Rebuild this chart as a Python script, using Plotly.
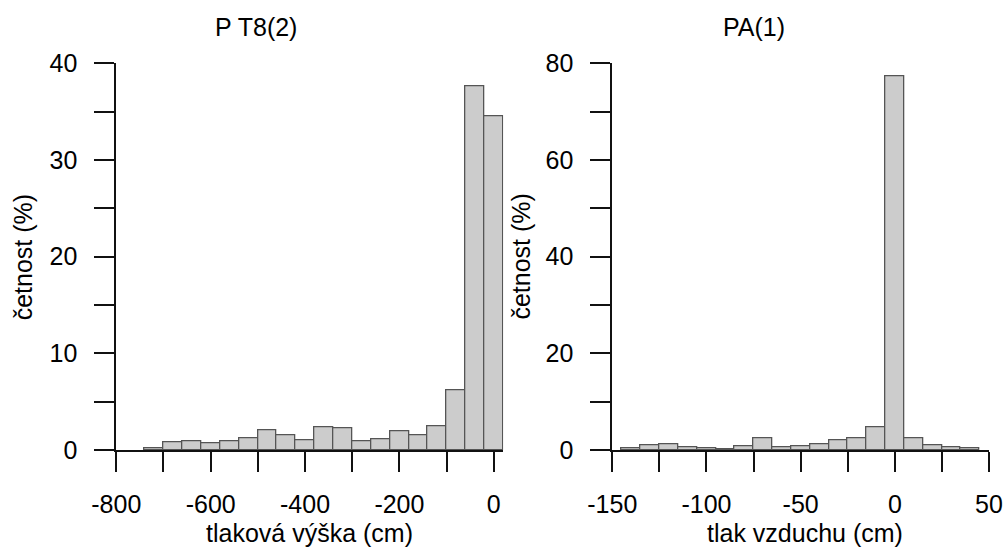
import plotly.graph_objects as go

# ---- data ----
left_bin_start = [-740, -700, -660, -620, -580, -540, -500, -460, -420, -380,
                  -340, -300, -260, -220, -180, -140, -100, -60, -20]
left_bin_width = 40
left_values = [0.2, 0.83, 0.95, 0.68, 0.91, 1.16, 2.08, 1.53, 0.97, 2.4,
               2.22, 0.95, 1.15, 1.92, 1.55, 2.43, 6.18, 37.65, 34.5]

right_bin_start = [-145, -135, -125, -115, -105, -95, -85, -75, -65, -55,
                   -45, -35, -25, -15, -5, 5, 15, 25, 35]
right_bin_width = 10
right_values = [0.31, 1.02, 1.27, 0.64, 0.42, 0.2, 0.82, 2.47, 0.53, 0.85,
                1.1, 1.98, 2.4, 4.8, 77.4, 2.33, 0.99, 0.49, 0.29]

left_xticks = [-800, -600, -400, -200, 0]
left_xminor = [-700, -500, -300, -100]
left_yticks = [0, 10, 20, 30, 40]
left_yminor = [5, 15, 25, 35]
right_xticks = [-150, -100, -50, 0, 50]
right_xminor = [-125, -75, -25, 25]
right_yticks = [0, 20, 40, 60, 80]
right_yminor = [10, 30, 50, 70]

left_title = "P T8(2)"
right_title = "PA(1)"
left_xlabel = "tlaková výška (cm)"
right_xlabel = "tlak vzduchu (cm)"
ylabel = "četnost (%)"

W, H = 1005, 548
FONT = "Liberation Sans, Arial, sans-serif"
FS = 25
bar_fill = "#cccccc"
bar_line = "#555555"
AXW = 2
TL = 20

def px_x(p):
    return p / W

def px_y(p):
    return (H - p) / H

def labels(vals):
    return [str(v) for v in vals]  # plain hyphen-minus like the reference

fig = go.Figure()
fig.add_trace(go.Bar(
    x=[s + left_bin_width / 2 for s in left_bin_start], y=left_values,
    width=[left_bin_width] * len(left_values),
    marker=dict(color=bar_fill, line=dict(color=bar_line, width=1.3)),
    xaxis="x", yaxis="y", showlegend=False))
fig.add_trace(go.Bar(
    x=[s + right_bin_width / 2 for s in right_bin_start], y=right_values,
    width=[right_bin_width] * len(right_values),
    marker=dict(color=bar_fill, line=dict(color=bar_line, width=1.3)),
    xaxis="x2", yaxis="y2", showlegend=False))

axis_common = dict(
    showline=True, linecolor="#111111", linewidth=AXW,
    ticks="outside", ticklen=TL, tickwidth=AXW, tickcolor="#111111",
    showgrid=False, zeroline=False, automargin=False,
    tickfont=dict(family=FONT, size=FS, color="black"),
)

def minor(vals):
    return dict(tickvals=vals, ticks="outside", ticklen=TL, tickwidth=AXW,
                tickcolor="#111111", showgrid=False)

y_top, y_bot = 63.3, 450.0

fig.update_layout(
    template="none",
    width=W, height=H, autosize=False,
    margin=dict(l=0, r=0, t=0, b=0),
    paper_bgcolor="white", plot_bgcolor="white",
    bargap=0,
    font=dict(family=FONT, size=FS, color="black"),
    xaxis=dict(domain=[px_x(116.3), px_x(503.2)], range=[-800, 20],
               tickvals=left_xticks, ticktext=labels(left_xticks),
               minor=minor(left_xminor),
               anchor="y", ticklabelstandoff=11, **axis_common),
    yaxis=dict(domain=[px_y(y_bot), px_y(y_top)], range=[0, 40],
               tickvals=left_yticks, ticktext=labels(left_yticks),
               minor=minor(left_yminor),
               anchor="x", ticklabelstandoff=12, **axis_common),
    xaxis2=dict(domain=[px_x(612.3), px_x(989.0)], range=[-150, 50],
                tickvals=right_xticks, ticktext=labels(right_xticks),
                minor=minor(right_xminor),
                anchor="y2", ticklabelstandoff=11, **axis_common),
    yaxis2=dict(domain=[px_y(y_bot), px_y(y_top)], range=[0, 80],
                tickvals=right_yticks, ticktext=labels(right_yticks),
                minor=minor(right_yminor),
                anchor="x2", ticklabelstandoff=12, **axis_common),
)

ann_font = dict(family=FONT, size=FS, color="black")
annotations = [
    dict(text=left_title, x=px_x(255.8), y=px_y(27)),
    dict(text=right_title, x=px_x(754.0), y=px_y(27)),
    dict(text=left_xlabel, x=px_x(309.5), y=px_y(533)),
    dict(text=right_xlabel, x=px_x(804.7), y=px_y(533)),
    dict(text=ylabel, x=px_x(23.3), y=px_y(257), textangle=-90),
    dict(text=ylabel, x=px_x(520.6), y=px_y(257), textangle=-90),
]
for a in annotations:
    fig.add_annotation(xref="paper", yref="paper", showarrow=False,
                       xanchor="center", yanchor="middle", font=ann_font, **a)

fig.write_html("out.html")
